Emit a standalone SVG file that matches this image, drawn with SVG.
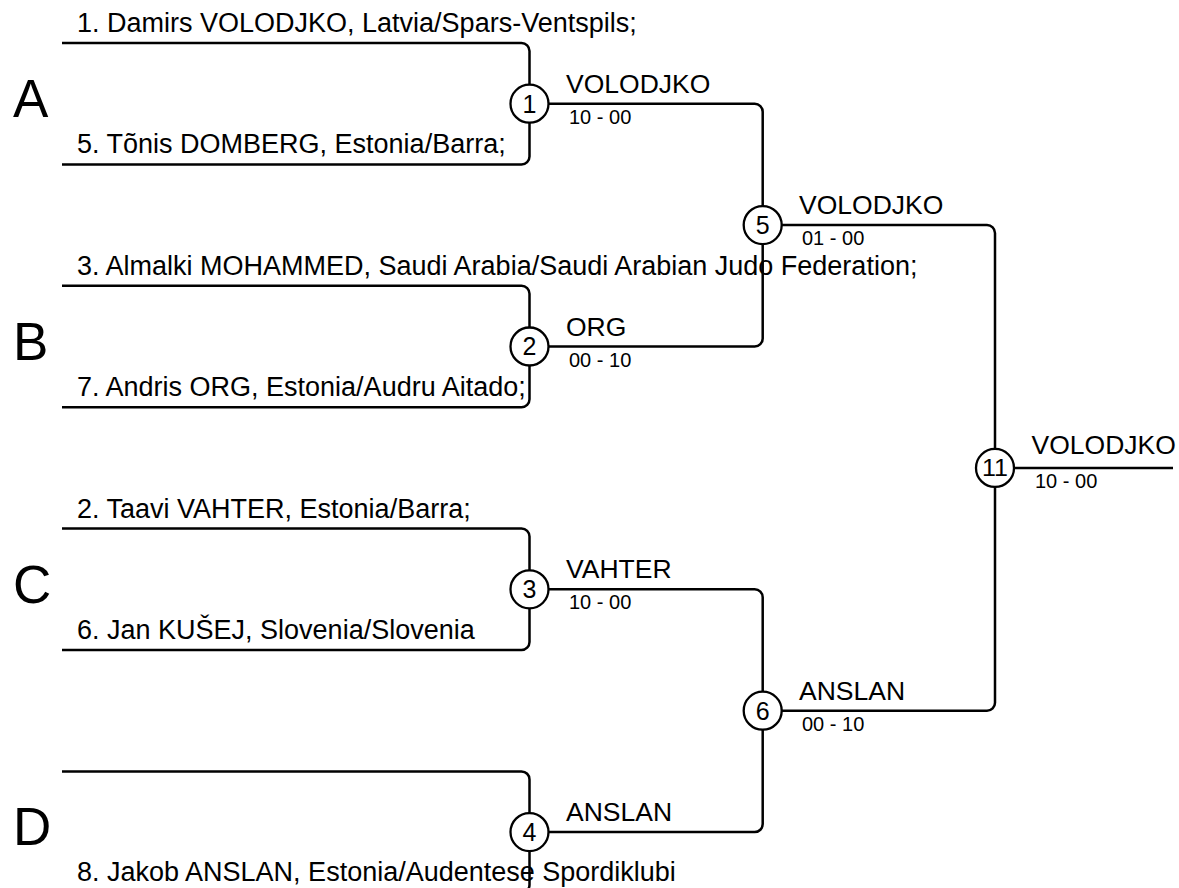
<svg xmlns="http://www.w3.org/2000/svg" width="1179" height="888" viewBox="0 0 1179 888">
<style>
text{font-family:"Liberation Sans",Arial,sans-serif;fill:#000}
.ln{fill:none;stroke:#000;stroke-width:2.5}
.c{fill:#fff;stroke:#000;stroke-width:2.3}
.nm{font-size:27px}
.grp{font-size:53px}
.win{font-size:26.5px}
.sc{font-size:20px}
.num{font-size:25px;text-anchor:middle}
</style>
<rect width="1179" height="888" fill="#fff"/>
<g id="connectors">
<path class="ln" d="M62,43 H521.5 A8,8 0 0 1 529.5,51 V84.7"/>
<path class="ln" d="M62,164.4 H521.5 A8,8 0 0 0 529.5,156.4 V122.7"/>
<path class="ln" d="M62,285.8 H521.5 A8,8 0 0 1 529.5,293.8 V327.5"/>
<path class="ln" d="M62,407.2 H521.5 A8,8 0 0 0 529.5,399.2 V365.5"/>
<path class="ln" d="M62,528.6 H521.5 A8,8 0 0 1 529.5,536.6 V570.3"/>
<path class="ln" d="M62,650 H521.5 A8,8 0 0 0 529.5,642 V608.3"/>
<path class="ln" d="M62,771.4 H521.5 A8,8 0 0 1 529.5,779.4 V813.1"/>
<path class="ln" d="M62,892.8 H521.5 A8,8 0 0 0 529.5,884.8 V851.1"/>
<path class="ln" d="M548.5,103.7 H754.7 A8,8 0 0 1 762.7,111.7 V206.1"/>
<path class="ln" d="M548.5,346.5 H754.7 A8,8 0 0 0 762.7,338.5 V244.1"/>
<path class="ln" d="M548.5,589.3 H754.7 A8,8 0 0 1 762.7,597.3 V691.7"/>
<path class="ln" d="M548.5,832.1 H754.7 A8,8 0 0 0 762.7,824.1 V729.7"/>
<path class="ln" d="M781.7,225.1 H987 A8,8 0 0 1 995,233.1 V448.9"/>
<path class="ln" d="M781.7,710.7 H987 A8,8 0 0 0 995,702.7 V486.9"/>
<path class="ln" d="M1014,467.9 H1173"/>
</g>
<g id="groups">
<text class="grp" x="13" y="117">A</text>
<text class="grp" x="13" y="360">B</text>
<text class="grp" x="13" y="603">C</text>
<text class="grp" x="13" y="845">D</text>
</g>
<g id="competitors">
<text class="nm" x="77" y="32">1. Damirs VOLODJKO, Latvia/Spars-Ventspils;</text>
<text class="nm" x="77" y="153">5. Tõnis DOMBERG, Estonia/Barra;</text>
<text class="nm" x="77" y="275">3. Almalki MOHAMMED, Saudi Arabia/Saudi Arabian Judo Federation;</text>
<text class="nm" x="77" y="396">7. Andris ORG, Estonia/Audru Aitado;</text>
<text class="nm" x="77" y="518">2. Taavi VAHTER, Estonia/Barra;</text>
<text class="nm" x="77" y="639">6. Jan KUŠEJ, Slovenia/Slovenia</text>
<text class="nm" x="77" y="881">8. Jakob ANSLAN, Estonia/Audentese Spordiklubi</text>
</g>
<g id="match1">
<circle class="c" cx="529.5" cy="103.7" r="19"/>
<text class="num" x="529.5" y="112.5">1</text>
<text class="win" x="566" y="93">VOLODJKO</text>
<text class="sc" x="569" y="124">10 - 00</text>
</g>
<g id="match2">
<circle class="c" cx="529.5" cy="346.5" r="19"/>
<text class="num" x="529.5" y="355.3">2</text>
<text class="win" x="566" y="335.5">ORG</text>
<text class="sc" x="569" y="366.5">00 - 10</text>
</g>
<g id="match3">
<circle class="c" cx="529.5" cy="589.3" r="19"/>
<text class="num" x="529.5" y="598.1">3</text>
<text class="win" x="566" y="578.3">VAHTER</text>
<text class="sc" x="569" y="609.3">10 - 00</text>
</g>
<g id="match4">
<circle class="c" cx="529.5" cy="832.1" r="19"/>
<text class="num" x="529.5" y="840.9">4</text>
<text class="win" x="566" y="821">ANSLAN</text>
</g>
<g id="match5">
<circle class="c" cx="762.7" cy="225.1" r="19"/>
<text class="num" x="762.7" y="233.9">5</text>
<text class="win" x="799" y="214">VOLODJKO</text>
<text class="sc" x="802" y="245">01 - 00</text>
</g>
<g id="match6">
<circle class="c" cx="762.7" cy="710.7" r="19"/>
<text class="num" x="762.7" y="719.5">6</text>
<text class="win" x="799" y="699.5">ANSLAN</text>
<text class="sc" x="802" y="730.7">00 - 10</text>
</g>
<g id="match11">
<circle class="c" cx="995" cy="467.9" r="19"/>
<text class="num" x="995" y="476" style="font-size:23px" textLength="26" lengthAdjust="spacingAndGlyphs">11</text>
<text class="win" x="1031.5" y="454">VOLODJKO</text>
<text class="sc" x="1035" y="487.5">10 - 00</text>
</g>
</svg>
